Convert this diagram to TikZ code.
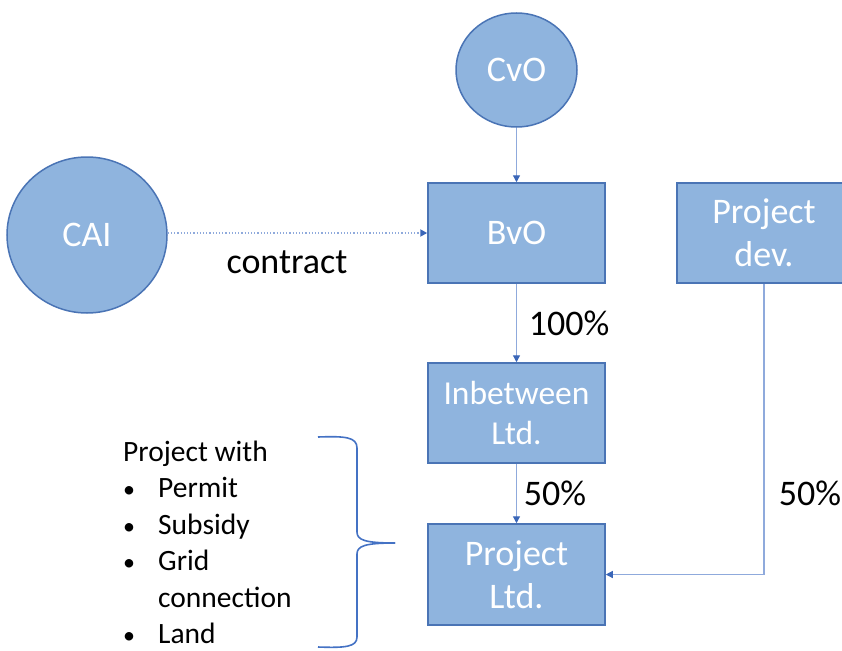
\documentclass[tikz,border=0pt]{standalone}
\usepackage{fontspec}
\setmainfont{Carlito}
\usetikzlibrary{shapes.geometric,arrows.meta}
\definecolor{boxfill}{HTML}{8FB4DE}
\definecolor{boxedge}{HTML}{4A74B5}
\definecolor{linec}{HTML}{8FAADC}
\definecolor{tipc}{HTML}{3A66B8}
\definecolor{bracec}{HTML}{4472C4}
\tikzset{
  ent/.style={draw=boxedge, fill=boxfill, line width=1.5pt, text=white, font=\fontsize{36}{40}\selectfont, align=center, inner sep=0pt},
  box/.style={ent, rectangle, minimum width=177pt, minimum height=100pt},
  oval/.style={ent, ellipse},
  conn/.style={draw=linec, line width=1.2pt, -{Triangle[length=7pt,width=7pt,color=tipc]}},
  lbl/.style={font=\fontsize{36}{40}\selectfont, text=black, inner sep=0pt},
  lst/.style={font=\fontsize{29.5}{34}\selectfont, text=black, inner sep=0pt, anchor=base west},
  bul/.style={font=\fontsize{24}{30}\selectfont, text=black, inner sep=0pt, anchor=base west}
}
\begin{document}
\begin{tikzpicture}[x=1pt,y=1pt]
\useasboundingbox (0,0) rectangle (842,-650);
\node[oval, minimum width=121pt, minimum height=114pt] (cvo) at (516.5,-70) {CvO};
\node[oval, minimum width=160pt, minimum height=156pt] (cai) at (87,-235) {CAI};
\node[box] (bvo) at (516.5,-233) {BvO};
\node[box, minimum width=174pt] (pdev) at (764,-233) {Project\\[3pt]dev.};
\node[box, font=\fontsize{33.5}{38}\selectfont] (inb) at (516.5,-413) {Inbetween\\[2pt]Ltd.};
\node[box, minimum height=101pt] (pltd) at (516.5,-574.5) {Project\\[3pt]Ltd.};

\draw[conn] (cvo) -- (bvo);
\draw[conn, dotted, line width=2pt] (cai.east |- bvo.west) -- (bvo.west);
\draw[conn] (bvo) -- (inb);
\draw[conn] (inb) -- (pltd);
\draw[conn] (pdev.south) |- (pltd.east);

\node[lbl] (contract) at (287,-262) {contract};
\node[lbl] (p100) at (569,-323) {100\%};
\node[lbl] (p50a) at (555,-493) {50\%};
\node[lbl] (p50b) at (810,-493) {50\%};

\node[lst] (l0) at (123,-461) {Project with};
\node[bul] (b1) at (123,-497.5) {•};
\node[lst] (t1) at (158,-497.5) {Permit};
\node[bul] (b2) at (123,-534) {•};
\node[lst] (t2) at (158,-534) {Subsidy};
\node[bul] (b3) at (123,-570.5) {•};
\node[lst] (t3) at (158,-570.5) {Grid};
\node[lst] (t4) at (158,-607) {connection};
\node[bul] (b5) at (123,-643.5) {•};
\node[lst] (t5) at (158,-643.5) {Land};

\draw[bracec, line width=1.6pt] (318,-437) .. controls (345,-436) and (357,-437) .. (357,-448) -- (357,-532) .. controls (357,-540) and (365,-543) .. (395,-543);
\draw[bracec, line width=1.6pt] (395,-543) .. controls (365,-543) and (357,-546) .. (357,-554) -- (357,-637) .. controls (357,-647) and (345,-648) .. (318,-647);
\end{tikzpicture}
\end{document}
